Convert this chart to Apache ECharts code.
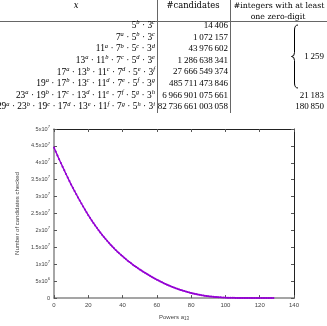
<!DOCTYPE html>
<html>
<head>
<meta charset="utf-8">
<script src="https://cdn.jsdelivr.net/npm/echarts@6/dist/echarts.min.js"></script>
<style>
html, body { margin: 0; padding: 0; background: #fff; }
#chart { width: 327px; height: 326px; }
</style>
</head>
<body>
<div id="chart"></div>
<script>
// table rows
const xTerms = [
    '5^b · 3^c',
    '7^a · 5^b · 3^c',
    '11^a · 7^b · 5^c · 3^d',
    '13^a · 11^b · 7^c · 5^d · 3^e',
    '17^a · 13^b · 11^c · 7^d · 5^e · 3^f',
    '19^a · 17^b · 13^c · 11^d · 7^e · 5^f · 3^g',
    '23^a · 19^b · 17^c · 13^d · 11^e · 7^f · 5^g · 3^h',
    '29^a · 23^b · 19^c · 17^d · 13^e · 11^f · 7^g · 5^h · 3^i'
]
const candidates = [14406, 1072157, 43976602, 1286638341, 27666549374,
    485711473846, 6966901075661, 82736661003058]
const zeroDigitShared = 1259      // rows 1-6 (brace)
const zeroDigitRows = [21183, 180850]   // rows 7, 8

// chart: candidates checked (millions) for powers a13 = 0, 1, 2, ...
const checkedMillions = [
    44.5, 43.35, 42.2, 41.08, 39.97, 38.87, 37.78, 36.7, 35.64, 34.6,
    33.57, 32.6, 31.64, 30.7, 29.77, 28.86, 27.97, 27.09, 26.22, 25.36,
    24.52, 23.73, 22.96, 22.21, 21.48, 20.77, 20.08, 19.41, 18.76, 18.13,
    17.52, 16.93, 16.36, 15.8, 15.26, 14.74, 14.23, 13.74, 13.26, 12.8,
    12.35, 11.91, 11.48, 11.06, 10.66, 10.27, 9.89, 9.52, 9.16, 8.81,
    8.47, 8.14, 7.82, 7.51, 7.21, 6.9, 6.6, 6.3, 6.0, 5.72,
    5.45, 5.18, 4.92, 4.67, 4.42, 4.18, 3.95, 3.73, 3.52, 3.31,
    3.11, 2.92, 2.74, 2.56, 2.39, 2.23, 2.07, 1.92, 1.78, 1.64,
    1.51, 1.39, 1.27, 1.16, 1.06, 0.96, 0.87, 0.78, 0.7, 0.63,
    0.56, 0.5, 0.44, 0.39, 0.34, 0.3, 0.26, 0.23, 0.2, 0.17,
    0.15, 0.13, 0.11, 0.095, 0.08, 0.068, 0.057, 0.048, 0.04, 0.033,
    0.027, 0.022, 0.018, 0.014, 0.011, 0.009, 0.007, 0.005, 0.004, 0.003,
    0.002, 0.0015, 0.001, 0.0008, 0.0005, 0.0003, 0.0002, 0.0001, 0
]
const yTickLabels = ['0', '5x10^6', '1x10^7', '1.5x10^7', '2x10^7', '2.5x10^7',
    '3x10^7', '3.5x10^7', '4x10^7', '4.5x10^7', '5x10^7']

const serif = 'DejaVu Serif'
const numSerif = 'Liberation Serif'
const headFont = 8.4
const numFont = 9
const rowTop = 25.7
const rowStep = 11.6
const lineColor = '#666'

function groupDigits(n) {
    return String(n).replace(/\B(?=(\d{3})+(?!\d))/g, '\u2009')
}

function mathRich(term) {
    return term.split(' · ').map(p => {
        const m = p.match(/^(\d+)\^(\w)$/)
        return '{n|' + m[1] + '}{e|' + m[2] + '}'
    }).join('{n| · }')
}

const mathStyles = {
    n: { fontFamily: numSerif, fontSize: 9.4, lineHeight: 13, fill: '#000' },
    e: { fontFamily: numSerif, fontSize: 6.5, fontStyle: 'italic', verticalAlign: 'top', lineHeight: 6, fill: '#000' }
}

function textEl(text, x, y, align, extra) {
    return {
        type: 'text',
        silent: true,
        style: Object.assign({
            text: text, x: x, y: y, align: align, verticalAlign: 'middle',
            fontFamily: serif, fontSize: headFont, fill: '#000'
        }, extra || {})
    }
}

function segment(shape) {
    const type = shape.cpx1 === undefined ? 'line' : 'bezierCurve'
    return { type: type, silent: true, shape: shape, style: { stroke: '#000', lineWidth: 1, fill: null } }
}

const graphics = []
// header
graphics.push(textEl('x', 76, 6, 'center', { fontStyle: 'italic' }))
graphics.push(textEl('#candidates', 193, 6, 'center'))
graphics.push(textEl('#integers with at least', 279, 6, 'center', { fontSize: 7.8 }))
graphics.push(textEl('one zero-digit', 278, 17, 'center', { fontSize: 7.8 }))
// rules
graphics.push({ type: 'line', silent: true, shape: { x1: 0, y1: 21.5, x2: 327, y2: 21.5 }, style: { stroke: lineColor, lineWidth: 1 } })
graphics.push({ type: 'line', silent: true, shape: { x1: 157.5, y1: 0, x2: 157.5, y2: 113 }, style: { stroke: lineColor, lineWidth: 1 } })
graphics.push({ type: 'line', silent: true, shape: { x1: 230.5, y1: 0, x2: 230.5, y2: 113 }, style: { stroke: lineColor, lineWidth: 1 } })

const numStyle = { fontFamily: numSerif, fontSize: numFont }
xTerms.forEach((t, i) => {
    const y = rowTop + i * rowStep
    graphics.push({
        type: 'text', silent: true,
        style: { text: mathRich(t), x: 155, y: y, align: 'right', verticalAlign: 'middle', rich: mathStyles }
    })
    graphics.push(textEl(groupDigits(candidates[i]), 228, y, 'right', numStyle))
})

// brace over rows 1-6
const bTop = 25, bBot = 88, bMid = (bTop + bBot) / 2
const bx = 294.5
graphics.push(segment({ x1: 298, y1: bTop, cpx1: bx, cpy1: bTop, x2: bx, y2: bTop + 5 }))
graphics.push(segment({ x1: bx, y1: bTop + 5, x2: bx, y2: bMid - 4 }))
graphics.push(segment({ x1: bx, y1: bMid - 4, cpx1: bx, cpy1: bMid, x2: bx - 3, y2: bMid }))
graphics.push(segment({ x1: bx - 3, y1: bMid, cpx1: bx, cpy1: bMid, x2: bx, y2: bMid + 4 }))
graphics.push(segment({ x1: bx, y1: bMid + 4, x2: bx, y2: bBot - 5 }))
graphics.push(segment({ x1: bx, y1: bBot - 5, cpx1: bx, cpy1: bBot, x2: 298, y2: bBot }))

graphics.push(textEl(groupDigits(zeroDigitShared), 324, bMid, 'right', numStyle))
zeroDigitRows.forEach((v, i) => {
    graphics.push(textEl(groupDigits(v), 324, rowTop + (6 + i) * rowStep, 'right', numStyle))
})

const chart = echarts.init(document.getElementById('chart'))

const labelColor = '#444'
const sans = 'Liberation Sans'

const xCommon = {
    type: 'value', min: 0, max: 140, interval: 20,
    splitLine: { show: false }
}
const yCommon = {
    type: 'value', min: 0, max: 50, interval: 5,
    splitLine: { show: false }
}

const option = {
    animation: false,
    backgroundColor: '#fff',
    grid: { left: 54, right: 33, top: 129, bottom: 24 },
    graphic: graphics,
    xAxis: [
        Object.assign({}, xCommon, {
            position: 'bottom',
            axisLine: { onZero: false, lineStyle: { color: '#888', width: 1.5 } },
            axisTick: { inside: true, length: 3, lineStyle: { color: '#555' } },
            axisLabel: { fontSize: 6, color: labelColor, fontFamily: sans, margin: 4 },
            name: 'Powers a{s|13}',
            nameLocation: 'middle',
            nameGap: 14,
            nameTextStyle: {
                fontSize: 6, color: labelColor, fontFamily: sans, lineHeight: 8,
                rich: { s: { fontSize: 4.5, color: labelColor, fontFamily: sans, verticalAlign: 'bottom', lineHeight: 5 } }
            }
        }),
        Object.assign({}, xCommon, {
            position: 'top',
            axisLine: { onZero: false, lineStyle: { color: '#222', width: 1 } },
            axisTick: { inside: true, length: 3, lineStyle: { color: '#555' } },
            axisLabel: { show: false }
        })
    ],
    yAxis: [
        Object.assign({}, yCommon, {
            position: 'left',
            axisLine: { show: true, onZero: false, lineStyle: { color: '#888', width: 1.5 } },
            axisTick: { show: true, inside: true, length: 3, lineStyle: { color: '#555' } },
            axisLabel: {
                fontSize: 5.6, color: labelColor, fontFamily: sans, margin: 4, lineHeight: 9,
                formatter: v => yTickLabels[Math.round(v / 5)].replace(/\^(\d+)/, '{s|$1}'),
                rich: { s: { fontSize: 4.2, color: labelColor, fontFamily: sans, verticalAlign: 'top', lineHeight: 4 } }
            },
            name: 'Number of candidates checked',
            nameLocation: 'middle',
            nameGap: 26,
            nameTextStyle: { fontSize: 6, color: labelColor, fontFamily: sans }
        }),
        Object.assign({}, yCommon, {
            position: 'right',
            axisLine: { show: true, onZero: false, lineStyle: { color: '#222', width: 1 } },
            axisTick: { show: true, inside: true, length: 3, lineStyle: { color: '#555' } },
            axisLabel: { show: false }
        })
    ],
    series: [{
        type: 'line',
        xAxisIndex: 0,
        yAxisIndex: 0,
        data: checkedMillions.map((v, i) => [i, v]),
        symbol: 'circle',
        symbolSize: 2,
        showSymbol: true,
        itemStyle: { color: '#9400d3' },
        lineStyle: { color: '#9400d3', width: 1.4 }
    }]
}

chart.setOption(option)
</script>
</body>
</html>
